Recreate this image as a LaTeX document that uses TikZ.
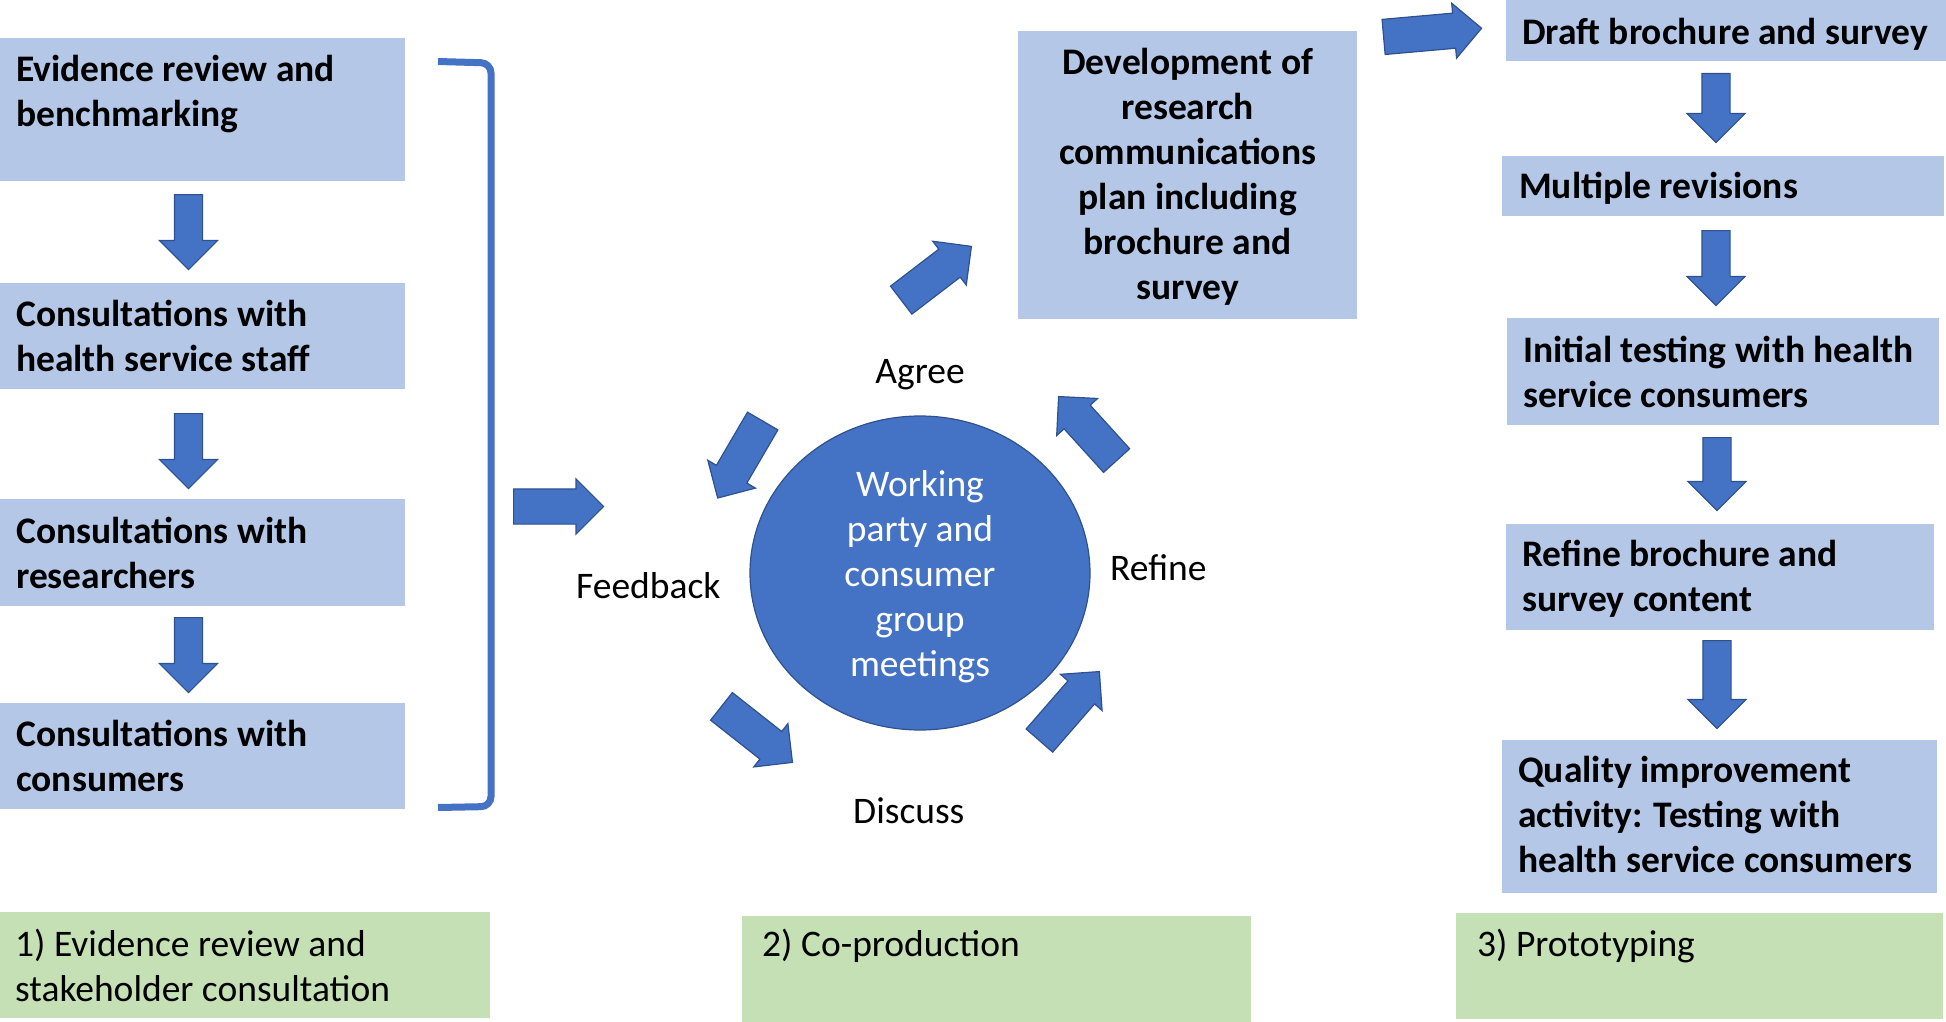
\documentclass[tikz,border=0pt]{standalone}
\usepackage{fontspec}
\setmainfont{Carlito}
\usepackage{xcolor}
\usetikzlibrary{shapes.geometric, shapes.arrows, calc, positioning}
\definecolor{boxblue}{HTML}{B4C7E7}
\definecolor{boxgreen}{HTML}{C5E0B4}
\definecolor{arrowblue}{HTML}{4472C4}
\definecolor{arrowedge}{HTML}{2F528F}
\tikzset{
  x=1pt, y=-1pt,                         % pixel grid, y down
  stagebox/.style   = {rectangle, fill=boxblue, inner sep=0pt, anchor=north west},
  phasebox/.style   = {rectangle, fill=boxgreen, inner sep=0pt, anchor=north west},
  boxtext/.style    = {font=\fontsize{37.5}{45}\selectfont\bfseries,
                       align=left, inner sep=0pt, anchor=north west},
  phasetext/.style  = {font=\fontsize{37.5}{45}\selectfont,
                       align=left, inner sep=0pt, anchor=north west},
  cyclelabel/.style = {font=\fontsize{37.5}{45}\selectfont, inner sep=0pt},
  fatarrow/.style   = {single arrow, draw=arrowedge, fill=arrowblue, line width=1.2pt,
                       inner xsep=0pt, inner ysep=17pt, single arrow head extend=10pt},
  downarrow/.style  = {fatarrow, inner ysep=13.5pt, single arrow head extend=15pt},
  bracketline/.style= {draw=arrowblue, line width=7pt, rounded corners=10pt}
}
% block arrow from tail point to tip point
\newcommand{\blockarrow}[4][fatarrow]{%
  \coordinate (#2-s) at (#3);
  \coordinate (#2-e) at (#4);
  \path let \p1=($(#2-e)-(#2-s)$), \n1={atan2(\y1,\x1)}, \n2={veclen(\x1,\y1)} in
    node[#1, anchor=tail, rotate=\n1, minimum height=\n2] (#2) at (#2-s) {};
}

\begin{document}
\begin{tikzpicture}
  \useasboundingbox (0,0) rectangle (1946,1022);

  % 1) evidence review column
  \node[stagebox, minimum width=405, minimum height=143] (ev) at (0,38) {};
  \node[boxtext] (evtxt) at ([shift={(16,11.5)}]ev.north west) {\strut Evidence review and\\benchmarking};
  \node[stagebox, minimum width=405, minimum height=106] (hs) at (0,283) {};
  \node[boxtext] (hstxt) at ([shift={(16,11.5)}]hs.north west) {\strut Consultations with\\health service staff};
  \node[stagebox, minimum width=405, minimum height=107] (rs) at (0,499) {};
  \node[boxtext] (rstxt) at ([shift={(16,12.5)}]rs.north west) {\strut Consultations with\\researchers};
  \node[stagebox, minimum width=405, minimum height=106] (cs) at (0,703) {};
  \node[boxtext] (cstxt) at ([shift={(16,11.5)}]cs.north west) {\strut Consultations with\\consumers};
  \blockarrow[downarrow]{a1}{188.5,194}{188.5,269}
  \blockarrow[downarrow]{a2}{188.5,413}{188.5,488}
  \blockarrow[downarrow]{a3}{188.5,617}{188.5,692}
  \draw[bracketline] (438,61.5) -- (491,63) -- (491,806.5) -- (438,807.5);
  \blockarrow{tomeet}{513,506.5}{603,506.5}

  % 2) co-production cycle
  \node[ellipse, fill=arrowblue, draw=arrowedge, line width=1.2pt, inner sep=0pt,
        minimum width=340, minimum height=314] (meet) at (920,573) {};
  \node[cyclelabel, align=center, anchor=north, text=white] (meettxt) at (920,464.5)
    {\strut Working\\party and\\consumer\\group\\meetings};
  \node[cyclelabel, anchor=base] (agree) at (920,383) {Agree};
  \node[cyclelabel, anchor=base west] (feedback) at (576,598) {Feedback};
  \node[cyclelabel, anchor=base west] (refine) at (1110,580) {Refine};
  \node[cyclelabel, anchor=base west] (discuss) at (853,823) {Discuss};
  \blockarrow{tofeed}{763,420.5}{718,497.5}
  \blockarrow{todisc}{721,706}{792,762}
  \blockarrow{torefine}{1039,741}{1099,672}
  \blockarrow{toagree}{1117,461}{1059,397}
  \blockarrow{todev}{900.7,300.5}{971,246.7}
  \node[stagebox, minimum width=339, minimum height=288] (dev) at (1018,31) {};
  \node[boxtext, align=center, anchor=north] (devtxt) at ([shift={(0,11.5)}]dev.north)
    {\strut Development of\\research\\communications\\plan including\\brochure and\\survey};
  \blockarrow{todraft}{1383,37}{1481,28.3}

  % 3) prototyping column
  \node[stagebox, minimum width=440, minimum height=61] (draft) at (1506,0) {};
  \node[boxtext] (drafttxt) at ([shift={(16,12.5)}]draft.north west) {\strut Draft brochure and survey};
  \node[stagebox, minimum width=442, minimum height=60] (multi) at (1502,156) {};
  \node[boxtext] (multitxt) at ([shift={(17,10.5)}]multi.north west) {\strut Multiple revisions};
  \node[stagebox, minimum width=432, minimum height=107] (init) at (1507,318) {};
  \node[boxtext] (inittxt) at ([shift={(16,13)}]init.north west) {\strut Initial testing with health\\service consumers};
  \node[stagebox, minimum width=428, minimum height=106] (refn) at (1506,524) {};
  \node[boxtext] (refntxt) at ([shift={(16,10.5)}]refn.north west) {\strut Refine brochure and\\survey content};
  \node[stagebox, minimum width=435, minimum height=153] (qual) at (1502,740) {};
  \node[boxtext] (qualtxt) at ([shift={(16,10.5)}]qual.north west)
    {\strut Quality improvement\\activity: Testing with\\health service consumers};
  \blockarrow[downarrow]{b1}{1716,73}{1716,142}
  \blockarrow[downarrow]{b2}{1716,230}{1716,305}
  \blockarrow[downarrow]{b3}{1717,437}{1717,510}
  \blockarrow[downarrow]{b4}{1717,640}{1717,728}

  % phase labels
  \node[phasebox, minimum width=490, minimum height=106] (pa) at (0,912) {};
  \node[phasetext] (patxt) at ([shift={(15,13)}]pa.north west) {\strut 1) Evidence review and\\stakeholder consultation};
  \node[phasebox, minimum width=509, minimum height=106] (pb) at (742,916) {};
  \node[phasetext] (pbtxt) at ([shift={(20,9)}]pb.north west) {\strut 2) Co-production};
  \node[phasebox, minimum width=487, minimum height=106] (pc) at (1456,913) {};
  \node[phasetext] (pctxt) at ([shift={(21,11.5)}]pc.north west) {\strut 3) Prototyping};
\end{tikzpicture}
\end{document}
